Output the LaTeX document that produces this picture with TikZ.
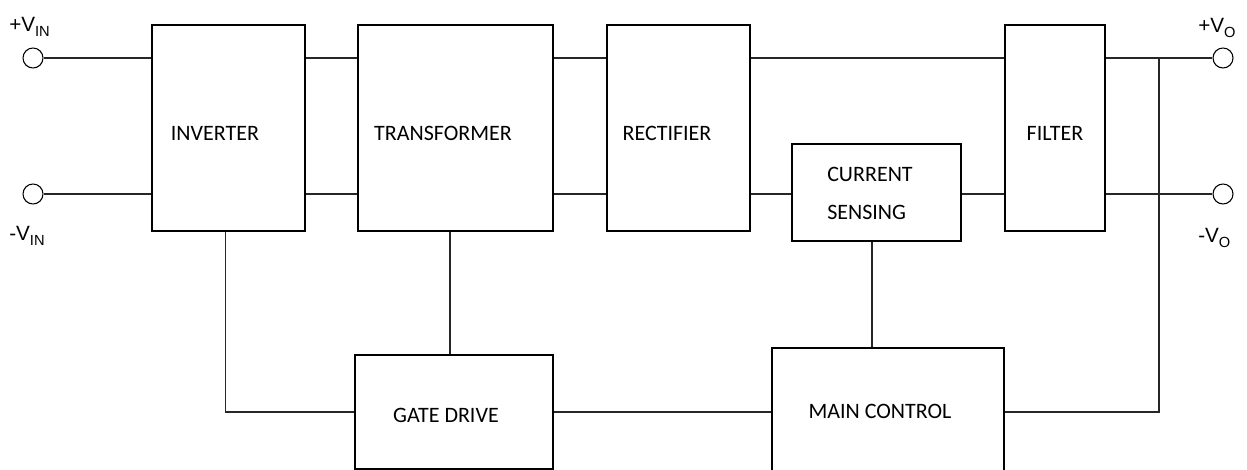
\documentclass[tikz,border=0pt]{standalone}
\usepackage{fontspec}
\setmainfont{Carlito}
\newfontfamily\pinfont{Liberation Sans}
\usepackage{tikz}
\usetikzlibrary{calc,positioning}
\tikzset{box/.style={draw, line width=0.9pt, inner sep=0pt}}
\tikzset{line/.style={draw, line width=0.9pt, black!85}}
\tikzset{term/.style={draw, circle, line width=0.8pt, minimum size=15pt, inner sep=0pt}}
\tikzset{lbl/.style={inner sep=0pt, text depth=0pt, font=\fontsize{16.5}{19}\selectfont}}
\tikzset{pin/.style={inner sep=0pt, anchor=base west, font=\pinfont\fontsize{15.5}{18}\selectfont}}
\newcommand{\pinsub}[1]{\raisebox{-3.2pt}{\fontsize{11}{12}\selectfont #1}}

\begin{document}
\begin{tikzpicture}[x=0.75pt,y=-0.75pt]
				\useasboundingbox (0,0) rectangle (1247,470);
				\node [box, minimum width=114.75pt, minimum height=154.5pt]   (inv)   at (228.5,128)   {};
				\node [box, minimum width=146.25pt, minimum height=154.5pt]   (tr)    at (455.5,128)   {};
				\node [box, minimum width=107.25pt, minimum height=154.5pt]   (rec)   at (678.5,128)   {};
				\node [box, minimum width=75pt, minimum height=154.5pt]       (fil)   at (1055,128)    {};
				\node [box, minimum width=126.75pt, minimum height=72.75pt]   (cs)    at (876.5,192.5) {};
				\node [box, minimum width=148.5pt, minimum height=85.5pt]     (gate)  at (454,412)     {};
				\node [box, minimum width=174pt, minimum height=99pt]         (mc)    at (888,414)     {};
				%
				\node [lbl] (tinv)  at (215,133)  {INVERTER};
				\node [lbl] (ttr)   at (443,133)  {TRANSFORMER};
				\node [lbl] (trec)  at (667,133)  {RECTIFIER};
				\node [lbl] (tfil)  at (1055,133) {FILTER};
				\node [lbl, anchor=west] (tcs1) at (827,174) {CURRENT};
				\node [lbl, anchor=west] (tcs2) at (827,212) {SENSING};
				\node [lbl] (tgate) at (446,415)  {GATE DRIVE};
				\node [lbl] (tmc)   at (880,411)  {MAIN CONTROL};
				%
				\node [term] (in1)  at (33,58)    {};
				\node [term] (in2)  at (33,194)   {};
				\node [term] (out1) at (1223,58)  {};
				\node [term] (out2) at (1223,194) {};
				\node [pin] (lin1)  at (9,32)     {+V\pinsub{IN}};
				\node [pin] (lin2)  at (9,241)    {-V\pinsub{IN}};
				\node [pin] (lout1) at (1198,33)  {+V\pinsub{O}};
				\node [pin] (lout2) at (1198,243) {-V\pinsub{O}};
				\coordinate (tap) at (1159,58);
				%
				\path [line] (in1.east) -- (in1.east -| inv.west);
				\path [line] (in2.east) -- (in2.east -| inv.west);
				\path [line] (inv.east |- in1) -- (tr.west |- in1);
				\path [line] (inv.east |- in2) -- (tr.west |- in2);
				\path [line] (tr.east |- in1) -- (rec.west |- in1);
				\path [line] (tr.east |- in2) -- (rec.west |- in2);
				\path [line] (rec.east |- in1) -- (fil.west |- in1);
				\path [line] (rec.east |- in2) -- (cs.west |- in2);
				\path [line] (cs.east |- in2) -- (fil.west |- in2);
				\path [line] (fil.east |- in1) -- (out1.west);
				\path [line] (fil.east |- in2) -- (out2.west);
				\path [line] (tap) |- (gate.east -| mc.east);
				\path [line] ([xshift=-2.25pt]inv.south) |- (gate.west);
				\path [line] (gate.east) -- (gate.east -| mc.west);
				\path [line] ([xshift=-3pt]gate.north) -- ([xshift=-3pt]gate.north |- tr.south);
				\path [line] ([xshift=-3.4pt]cs.south) -- ([xshift=-3.4pt]cs.south |- mc.north);
\end{tikzpicture}
\end{document}
